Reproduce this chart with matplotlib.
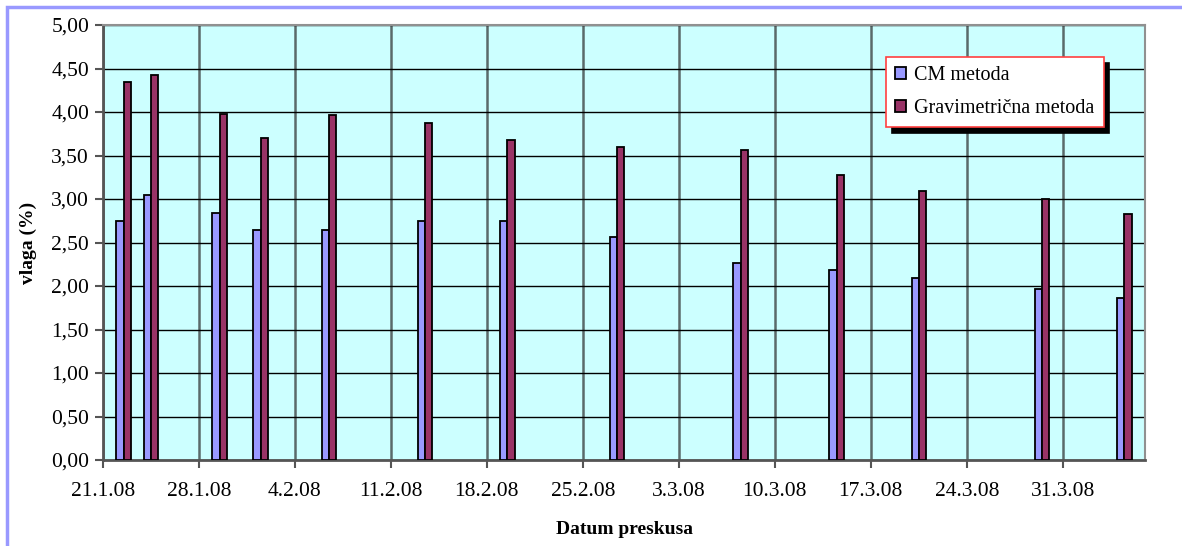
import matplotlib
matplotlib.use("Agg")
import matplotlib.pyplot as plt
import matplotlib.dates as mdates
from matplotlib.patches import Rectangle
import pandas as pd
import numpy as np

# measurement dates and moisture values (%)
dates = ["22.1.2008", "24.1.2008", "29.1.2008", "1.2.2008", "6.2.2008",
         "13.2.2008", "19.2.2008", "27.2.2008", "7.3.2008", "14.3.2008",
         "20.3.2008", "29.3.2008", "4.4.2008"]
cm_metoda = [2.75, 3.05, 2.84, 2.64, 2.64, 2.75, 2.75, 2.56, 2.26, 2.18, 2.09, 1.96, 1.86]
gravimetricna = [4.34, 4.43, 3.98, 3.70, 3.96, 3.87, 3.68, 3.60, 3.56, 3.28, 3.09, 3.00, 2.83]
labels = ["CM metoda", "Gravimetrična metoda"]

axis_start = "21.1.2008"
axis_end = "6.4.2008"

plt.rcParams["font.family"] = ["Liberation Serif", "DejaVu Serif"]

x = mdates.date2num(pd.to_datetime(dates, format="%d.%m.%Y")) + 0.5
x0 = mdates.date2num(pd.to_datetime(axis_start, format="%d.%m.%Y"))
x1 = mdates.date2num(pd.to_datetime(axis_end, format="%d.%m.%Y"))

fig = plt.figure(figsize=(11.82, 5.46), dpi=100)
ax = fig.add_axes([103 / 1182, 86 / 546, 1042 / 1182, 435 / 546])
ax.set_facecolor("#CCFFFF")

w = 0.53
ax.bar(x - w / 2, cm_metoda, width=w, color="#9999FF", edgecolor="black", linewidth=1.3,
       label=labels[0], zorder=3)
ax.bar(x + w / 2, gravimetricna, width=w, color="#993366", edgecolor="black", linewidth=1.3,
       label=labels[1], zorder=3)

ax.set_xlim(x0, x1)
ax.set_ylim(0, 5)
ax.set_yticks(np.arange(0, 5.01, 0.5))
ax.set_yticklabels([f"{v:.2f}".replace(".", ",") for v in np.arange(0, 5.01, 0.5)])

week_ticks = np.arange(x0, x0 + 71, 7)
ax.set_xticks(week_ticks)
ax.set_xticklabels([f"{d.day}.{d.month}.{d.strftime('%y')}" for d in mdates.num2date(week_ticks)])

ax.grid(axis="y", color="black", linewidth=1.0, zorder=1)
ax.grid(axis="x", color="#5a6a6a", linewidth=1.8, zorder=1)
ax.tick_params(axis="both", labelsize=15.5, color="#555555", width=1.5, length=6)
ax.tick_params(axis="x", pad=10)
ax.tick_params(axis="y", pad=4)

for side in ["left", "bottom"]:
    ax.spines[side].set_color("#555555")
    ax.spines[side].set_linewidth(2)
for side in ["top", "right"]:
    ax.spines[side].set_color("#909090")
    ax.spines[side].set_linewidth(1.5)

ax.set_xlabel("Datum preskusa", fontsize=14, fontweight="bold", labelpad=14)
ax.set_ylabel("vlaga (%)", fontsize=14, fontweight="bold", labelpad=10)

leg = ax.legend(loc="upper left", bbox_to_anchor=((886 - 103) / 1042, (460 - 57) / 435),
                fontsize=14.5, frameon=True, fancybox=False,
                shadow={"color": "black", "alpha": 1, "ox": 4, "oy": -4},
                handlelength=0.55, handleheight=0.55, handletextpad=0.4,
                borderpad=0.45, labelspacing=0.7, borderaxespad=0)
leg.get_frame().set_edgecolor("#FF4040")
leg.get_frame().set_linewidth(1.2)
leg.get_frame().set_facecolor("white")
leg.set_zorder(5)

# frame around the whole chart
fig.patches.append(Rectangle((7 / 1182, -0.05), 1.2, (539 / 546) + 0.05,
                             transform=fig.transFigure, fill=False,
                             edgecolor="#9999FF", linewidth=2.5))

fig.savefig("out.png", dpi=100)
